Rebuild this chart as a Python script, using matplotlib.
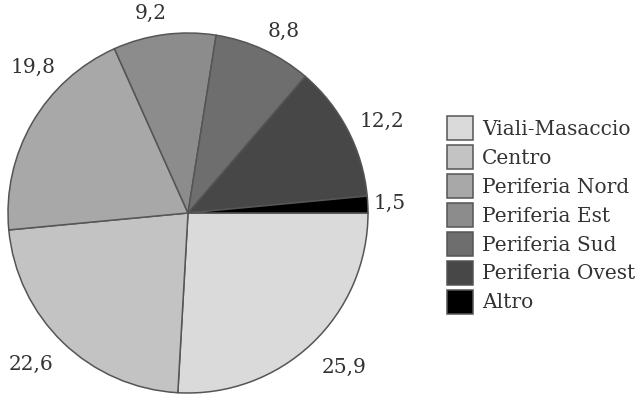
import numpy as np
import matplotlib.pyplot as plt

# Data
categories = [
    "Viali-Masaccio",
    "Centro",
    "Periferia Nord",
    "Periferia Est",
    "Periferia Sud",
    "Periferia Ovest",
    "Altro",
]
values = [25.9, 22.6, 19.8, 9.2, 8.8, 12.2, 1.5]
value_labels = ["25,9", "22,6", "19,8", "9,2", "8,8", "12,2", "1,5"]
colors = ["#dadada", "#c3c3c3", "#a8a8a8", "#8c8c8c", "#6e6e6e", "#474747", "#000000"]

# label placement (radius factor, angle nudge in degrees)
LABEL_RADIUS = [1.22, 1.21, 1.18, 1.13, 1.14, 1.19, 1.12]
LABEL_NUDGE = [2, -2, -13, 3, -3, -2, 0]

W, H = 644, 397
FS = 14.5
plt.rcParams["font.family"] = ["DejaVu Serif"]

fig = plt.figure(figsize=(W / 100, H / 100), dpi=100)
ax = fig.add_axes([8 / W, 4 / H, 360 / W, 360 / H])

wedges, _ = ax.pie(
    values,
    colors=colors,
    startangle=0,
    counterclock=False,
    wedgeprops=dict(edgecolor="#555555", linewidth=1.1),
)

for w, lab, rf, nudge in zip(wedges, value_labels, LABEL_RADIUS, LABEL_NUDGE):
    ang = np.deg2rad((w.theta1 + w.theta2) / 2 + nudge)
    ax.text(
        rf * np.cos(ang),
        rf * np.sin(ang),
        lab,
        ha="center",
        va="center",
        fontsize=FS,
        color="#333333",
        clip_on=False,
    )

ax.set_xlim(-1.0, 1.0)
ax.set_ylim(-1.0, 1.0)
ax.set_aspect("equal")
ax.axis("off")

leg = fig.legend(
    wedges,
    categories,
    loc="upper left",
    bbox_to_anchor=(431 / W, 1 - 100 / H),
    frameon=False,
    fontsize=FS,
    handlelength=1.3,
    handleheight=1.45,
    handletextpad=0.45,
    labelspacing=0.25,
    borderpad=0.3,
    labelcolor="#333333",
)
for p in leg.get_patches():
    p.set_edgecolor("#555555")

fig.savefig("out.png", dpi=100)
